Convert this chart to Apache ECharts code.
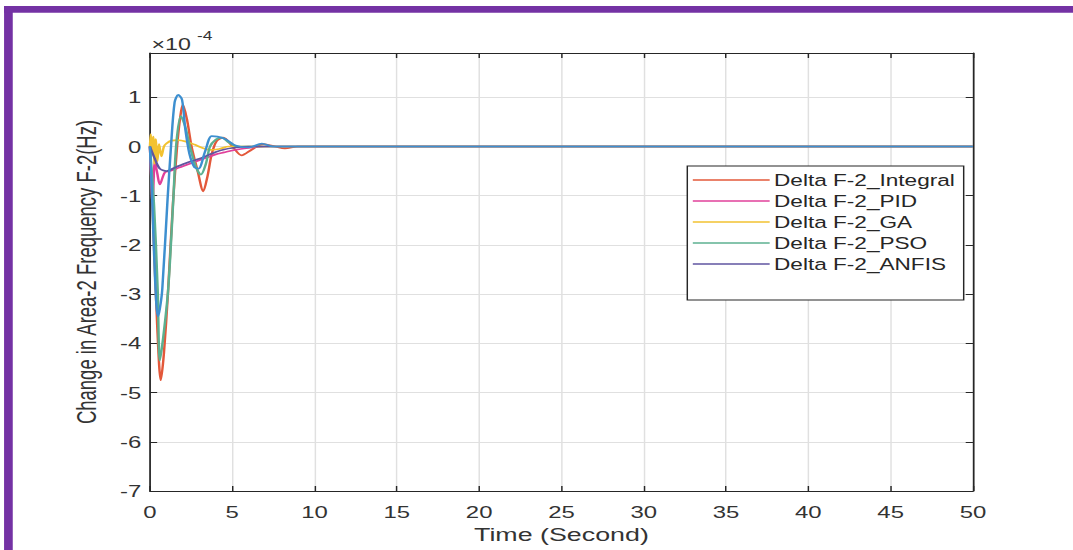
<!DOCTYPE html>
<html>
<head>
<meta charset="utf-8">
<script src="https://cdn.jsdelivr.net/npm/echarts@6/dist/echarts.min.js"></script>
<style>
html,body{margin:0;padding:0;background:#fff;overflow:hidden;}
#c{width:740px;height:550px;transform:scaleX(1.45);transform-origin:0 0;}
</style>
</head>
<body>
<div id="c"></div>
<script>
// ---- data (values in units of 1e-4 Hz) ----
const seriesNames = ['Delta F-2_Integral', 'Delta F-2_PID', 'Delta F-2_GA', 'Delta F-2_PSO', 'Delta F-2_ANFIS'];
const xTicks = [0, 5, 10, 15, 20, 25, 30, 35, 40, 45, 50];
const yTicks = [-7, -6, -5, -4, -3, -2, -1, 0, 1];

const tIntegral = [0, 0.2, 0.45, 0.66, 0.85, 1.1, 1.4, 1.65, 1.85, 2.0, 2.25, 2.53, 2.9, 3.24, 3.5, 3.75, 4.05, 4.45, 5.06, 5.57, 6.2, 6.9, 7.6, 8.2, 9, 50];
const vIntegral = [0, -1.6, -3.7, -4.75, -4.2, -2.95, -1.15, 0.0, 0.62, 0.85, 0.55, 0, -0.5, -0.91, -0.6, -0.16, 0.11, 0.18, -0.02, -0.18, -0.06, 0.05, 0, -0.04, 0, 0];

const tPID = [0, 0.08, 0.16, 0.3, 0.45, 0.6, 0.9, 1.2, 1.6, 2.0, 2.5, 3.0, 3.5, 4.0, 4.5, 5.0, 5.5, 6.0, 7.0, 50];
const vPID = [0, -0.6, -1.15, -0.3, -0.55, -0.77, -0.53, -0.5, -0.45, -0.4, -0.34, -0.28, -0.22, -0.16, -0.12, -0.08, -0.05, -0.03, 0, 0];

const tGA = [0, 0.05, 0.12, 0.2, 0.28, 0.36, 0.45, 0.55, 0.7, 0.85, 1.0, 1.3, 1.7, 2.2, 2.7, 3.2, 3.7, 4.2, 4.8, 5.5, 50];
const vGA = [0, 0.25, -0.15, 0.2, -0.35, 0.15, -0.3, 0.05, -0.2, 0.0, 0.06, 0.12, 0.13, 0.1, 0.04, -0.03, -0.07, -0.05, 0.0, 0.0, 0];

const tPSO = [0, 0.25, 0.47, 0.6, 0.8, 1.11, 1.42, 1.6, 1.88, 2.15, 2.43, 2.8, 3.1, 3.4, 3.65, 4.0, 4.35, 4.8, 5.3, 6, 50];
const vPSO = [0, -1.2, -2.9, -4.35, -3.9, -2.9, -1.08, 0.05, 0.62, 0.4, 0, -0.42, -0.57, -0.35, 0, 0.14, 0.18, 0.08, 0, 0, 0];

const tANFIS = [0, 0.3, 0.6, 1.0, 1.5, 2.0, 2.5, 3.0, 3.5, 4.0, 4.5, 5.0, 6.0, 50];
const vANFIS = [0, -0.25, -0.45, -0.5, -0.43, -0.36, -0.3, -0.25, -0.18, -0.11, -0.06, -0.03, 0, 0];

const tExtra = [0, 0.14, 0.3, 0.48, 0.6, 0.75, 1.07, 1.28, 1.5, 1.72, 1.95, 2.15, 2.4, 2.7, 2.95, 3.35, 3.75, 4.1, 4.6, 5.2, 6, 6.8, 7.5, 50];
const vExtra = [0, -1.1, -2.6, -3.45, -3.3, -2.9, -1.08, 0.0, 0.9, 1.05, 0.95, 0.35, -0.15, -0.42, -0.45, -0.1, 0.21, 0.2, 0.15, 0.02, -0.02, 0.06, 0, 0];

// ---- chart ----
const FONT = '"Liberation Sans", Arial, Helvetica, sans-serif';
const TXT = '#333333';
const AX = '#262626';
function pairs(t, v) { return t.map((x, i) => [x, v[i]]); }
const colors = ['#e3583a', '#e0409a', '#f2c230', '#5cb090', '#5f55a0', '#3d8fd0'];

const chart = echarts.init(document.getElementById('c'), null, { renderer: 'svg', width: 740, height: 550 });

function mkSeries(name, t, v, color, z) {
  return {
    type: 'line', name: name, data: pairs(t, v), xAxisIndex: 0, yAxisIndex: 0,
    showSymbol: false, symbol: 'none', smooth: 0.3, z: z,
    lineStyle: { color: color, width: 1.7 }, itemStyle: { color: color }
  };
}

const xMin = xTicks[0], xMax = xTicks[xTicks.length - 1];
const yMin = yTicks[0];

function axisCommon() {
  return {
    axisLine: { show: true, onZero: false, lineStyle: { color: AX, width: 1.2 } },
    axisTick: { show: true, inside: true, length: 5, lineStyle: { color: AX, width: 1 } }
  };
}

chart.setOption({
  animation: false,
  backgroundColor: '#ffffff',
  grid: { left: 103.4, right: 69, top: 53, bottom: 59, containLabel: false },
  xAxis: [
    Object.assign({
      type: 'value', min: xMin, max: xMax, interval: 5, position: 'bottom',
      name: 'Time (Second)', nameLocation: 'middle', nameGap: 32,
      nameTextStyle: { fontFamily: FONT, fontSize: 18.5, color: TXT },
      axisLabel: { fontFamily: FONT, fontSize: 16.5, color: TXT, margin: 12 },
      splitLine: { show: true, lineStyle: { color: '#e0e0e0', width: 1 } }
    }, axisCommon()),
    Object.assign({
      type: 'value', min: xMin, max: xMax, interval: 5, position: 'top',
      axisLabel: { show: false }, splitLine: { show: false }
    }, axisCommon())
  ],
  yAxis: [
    Object.assign({
      type: 'value', min: yMin, max: 1.9, interval: 1, position: 'left',
      name: 'Change in Area-2 Frequency F-2(Hz)', nameLocation: 'middle', nameGap: 34,
      nameTextStyle: { fontFamily: FONT, fontSize: 18.5, color: TXT },
      axisLabel: { fontFamily: FONT, fontSize: 16.5, color: TXT, margin: 6, showMaxLabel: false },
      splitLine: { show: true, lineStyle: { color: '#e0e0e0', width: 1 } }
    }, axisCommon()),
    Object.assign({
      type: 'value', min: yMin, max: 1.9, interval: 1, position: 'right',
      axisLabel: { show: false }, splitLine: { show: false }
    }, axisCommon())
  ],
  legend: {
    orient: 'vertical', left: 474, top: 166,
    padding: [5, 6, 27, 3],
    itemWidth: 53, itemHeight: 10, itemGap: 3,
    borderColor: AX, borderWidth: 1, borderRadius: 0, backgroundColor: '#ffffff',
    itemStyle: { opacity: 0 },
    lineStyle: { width: 1.6 },
    textStyle: { fontFamily: FONT, fontSize: 15.6, color: '#262626', lineHeight: 18, padding: [0, 0, 0, -2] },
    data: seriesNames
  },
  graphic: [
    { type: 'rect', left: 2.8, top: 6, shape: { width: 6, height: 544 }, style: { fill: '#7432a4' }, silent: true },
    { type: 'rect', left: 2.8, top: 6, shape: { width: 737.2, height: 6.7 }, style: { fill: '#7432a4' }, silent: true },
    { type: 'text', left: 104.5, top: 36, style: { text: '×10', fontFamily: FONT, fontSize: 16, fill: TXT } },
    { type: 'text', left: 135.8, top: 30, style: { text: '-4', fontFamily: FONT, fontSize: 12, fill: TXT } }
  ],
  series: [
    mkSeries(seriesNames[0], tIntegral, vIntegral, colors[0], 2),
    mkSeries(seriesNames[1], tPID, vPID, colors[1], 3),
    mkSeries(seriesNames[2], tGA, vGA, colors[2], 4),
    mkSeries(seriesNames[3], tPSO, vPSO, colors[3], 5),
    mkSeries(seriesNames[4], tANFIS, vANFIS, colors[4], 6),
    mkSeries('extra', tExtra, vExtra, colors[5], 7)
  ]
});
</script>
</body>
</html>
